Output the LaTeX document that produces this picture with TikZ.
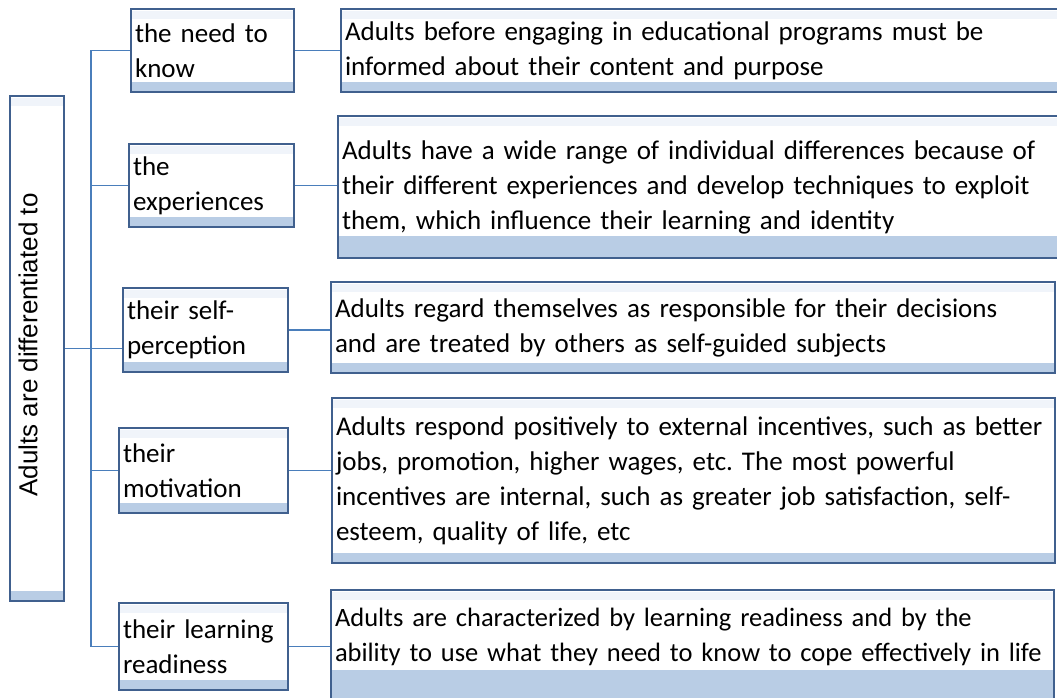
\documentclass[tikz,border=0pt]{standalone}
\usepackage{fontspec}
\setmainfont{Carlito}
\newfontfamily\arialfont{Liberation Sans}
\definecolor{boxline}{RGB}{64,96,142}
\definecolor{linkblue}{RGB}{74,126,187}
\definecolor{stripblue}{RGB}{185,205,229}
\definecolor{striptop}{RGB}{240,244,250}
\frenchspacing
\begin{document}
\begin{tikzpicture}[x=1pt,y=-1pt,
    strip/.style={path picture={
        \fill[striptop] ([yshift=-2pt]path picture bounding box.north west) rectangle ([yshift=-10pt]path picture bounding box.north east);
        \fill[stripblue] (path picture bounding box.south west) rectangle ([yshift=#1]path picture bounding box.south east);}},
    strip/.default=10pt,
    box/.style={draw=boxline, line width=2.2pt, fill=white, inner xsep=4pt, inner ysep=0pt,
        align=left, font=\fontsize{27}{35}\selectfont, strip},
    link/.style={draw=linkblue, line width=1.6pt}]
    \useasboundingbox (0,0) rectangle (1057,697);
    \node[box, minimum width=54pt, minimum height=505pt] (adults) at (37,348.5) {};
    \node[rotate=90, font=\arialfont\fontsize{26}{30}\selectfont] (adultslbl) at (28,345) {Adults are differentiated to};
    \node[box, text width=155pt, minimum height=83pt] (need) at (212.5,50.5) {the need to\\know};
    \node[box, text width=157pt, minimum height=83pt] (exper) at (211.5,185.5) {the\\experiences};
    \node[box, text width=157pt, minimum height=84pt] (self) at (205.5,330) {their self-\\perception};
    \node[box, text width=161pt, minimum height=85pt] (motiv) at (203.5,470.5) {their\\motivation};
    \node[box, text width=161pt, minimum height=87pt] (ready) at (203.5,646.5) {their learning\\readiness};
    \node[box, text width=717pt, minimum height=83pt] (needinfo) at (703.5,50.5)
        {Adults before engaging in educational programs must be\\informed about their content and purpose};
    \node[box, text width=720pt, minimum height=142pt, strip=22pt] (experinfo) at (702,187)
        {Adults have a wide range of individual differences because of\\their different experiences and develop techniques to exploit\\them, which influence their learning and identity};
    \node[box, text width=716pt, minimum height=91pt] (selfinfo) at (693,327.5)
        {Adults regard themselves as responsible for their decisions\\and are treated by others as self-guided subjects};
    \node[box, text width=715pt, minimum height=165pt] (motivinfo) at (693.5,480.5)
        {Adults respond positively to external incentives, such as better\\jobs, promotion, higher wages, etc. The most powerful\\incentives are internal, such as greater job satisfaction, self-\\esteem, quality of life, etc};
    \node[box, text width=715pt, minimum height=115pt, strip=35pt, font=\fontsize{26.5}{35}\selectfont] (readyinfo) at (692.5,647.5)
        {Adults are characterized by learning readiness and by the\\\mbox{ability to use what they need to know to cope effectively in life}\\[-9pt]\mbox{}};
    \coordinate (spine) at (91,0);
    \draw[link] (need.west) -| (spine |- ready.west) -- (ready.west);
    \foreach \b in {exper,motiv}
        \draw[link] (spine |- \b.west) -- (\b.west);
    \draw[link] (adults.east) -- (adults.east -| self.west);
    \foreach \l/\r in {need/needinfo,exper/experinfo,self/selfinfo,motiv/motivinfo,ready/readyinfo}
        \draw[link] (\l.east) -- (\l.east -| \r.west);
\end{tikzpicture}
\end{document}
